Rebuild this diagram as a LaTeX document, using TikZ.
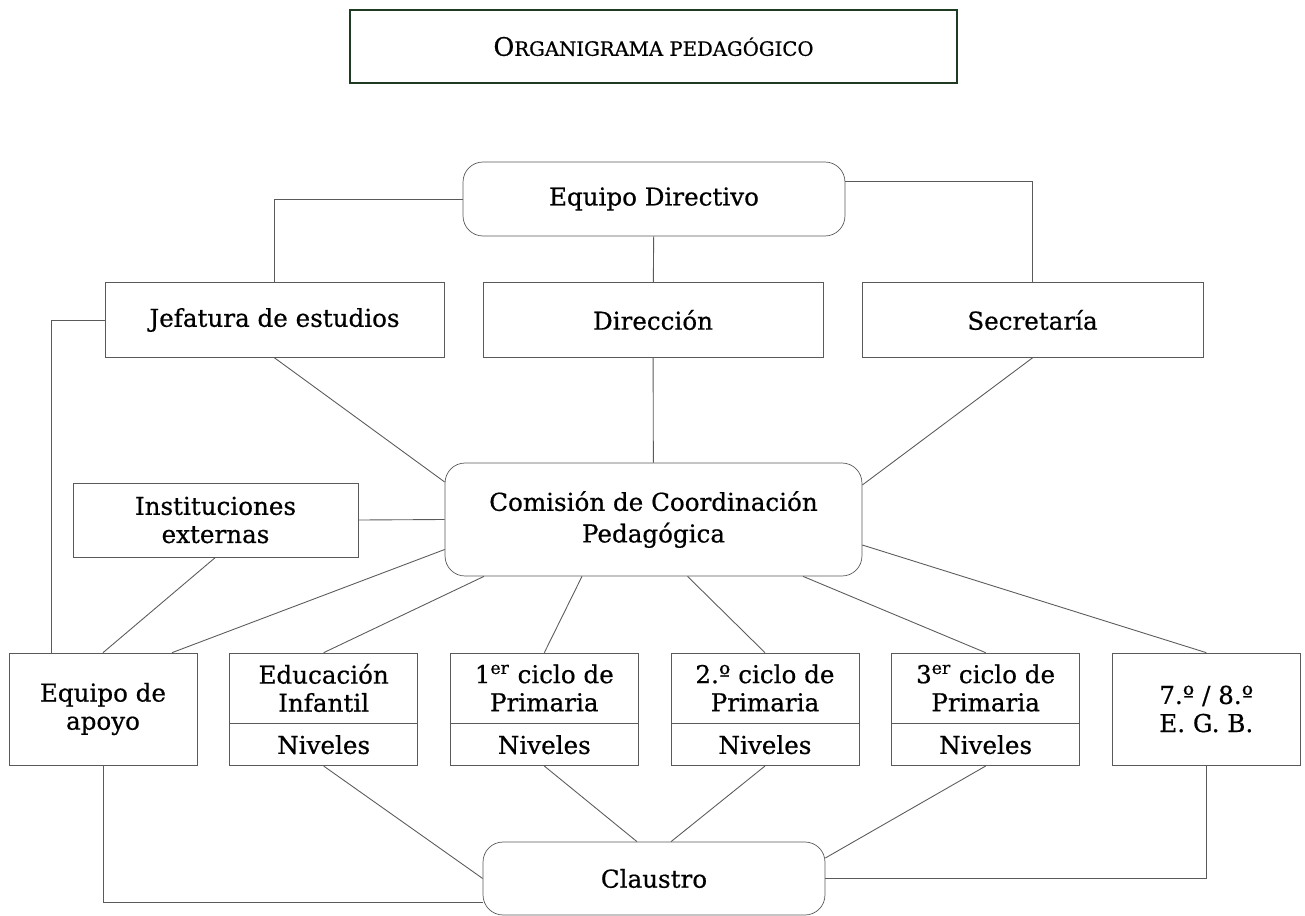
\documentclass[tikz,border=0pt]{standalone}
\usepackage{fontspec}
\setmainfont{DejaVu Serif}[FakeBold=0.6]
\usepackage{tikz}
\usetikzlibrary{positioning}
\definecolor{linegray}{HTML}{5A5A5A}
\definecolor{titlegreen}{HTML}{1F3B22}
\tikzstyle{block} = [rectangle, draw=linegray, fill=white, text centered, align=center,
    inner sep=0pt, minimum width=3.76cm, font=\fontsize{14}{16}\selectfont]
\tikzstyle{roundblock} = [block, rounded corners=0.4cm]
\tikzstyle{level} = [block, minimum height=1.4cm]
\tikzstyle{niveles} = [block, minimum height=0.84cm]
\tikzstyle{line} = [draw, linegray, line width=0.5pt]

\begin{document}
\begin{tikzpicture}[x=0.02cm, y=-0.02cm]
  \useasboundingbox (0,0) rectangle (1305,916);
   % Place nodes
    \node [block, draw=titlegreen, line width=1.2pt, minimum width=12.14cm, minimum height=1.46cm,
      font=\fontsize{14.5}{16}\selectfont] (title) at (653.5,46.5)
      {O{\fontsize{11.2}{13}\selectfont RGANIGRAMA PEDAGÓGICO}};
    \node [roundblock, minimum width=7.64cm, minimum height=1.48cm] (equipo) at (654,199) {Equipo Directivo};
    \node [block, minimum width=6.78cm, minimum height=1.5cm] (jefatura) at (274.5,320) {Jefatura de estudios};
    \node [block, minimum width=6.8cm, minimum height=1.5cm] (direccion) at (653,320) {Dirección};
    \node [block, minimum width=6.82cm, minimum height=1.5cm] (secretaria) at (1032.5,320) {Secretaría};
    \node [roundblock, minimum width=8.34cm, minimum height=2.26cm, font=\fontsize{14}{18}\selectfont]
      (ccp) at (653.5,519.5) {Comisión de Coordinación\\Pedagógica};
    \node [block, minimum width=5.7cm, minimum height=1.48cm] (externas) at (215.5,520) {Instituciones\\externas};
   % Bottom row
    \node [block, minimum height=2.24cm] (apoyo) at (103,709) {Equipo de\\apoyo};
    \node [level, right=0.64cm of apoyo.north east, anchor=north west] (infantil) {Educación\\Infantil};
    \node [level, right=0.64cm of infantil] (primero) {1\textsuperscript{er} ciclo de\\Primaria};
    \node [level, right=0.64cm of primero] (segundo) {2.º ciclo de\\Primaria};
    \node [level, right=0.64cm of segundo] (tercero) {3\textsuperscript{er} ciclo de\\Primaria};
    \node [block, minimum height=2.24cm, right=0.64cm of tercero.north east, anchor=north west] (egb) {7.º / 8.º\\E. G. B.};
    \node [niveles, below=0pt of infantil] (infantilniv) {Niveles};
    \node [niveles, below=0pt of primero] (primeroniv) {Niveles};
    \node [niveles, below=0pt of segundo] (segundoniv) {Niveles};
    \node [niveles, below=0pt of tercero] (terceroniv) {Niveles};
    \node [roundblock, minimum width=6.84cm, minimum height=1.46cm] (claustro) at (654,878.5) {Claustro};
   % Draw edges
    \path [line] (equipo.west) -| (jefatura.north);
    \path [line] ([yshift=0.36cm]equipo.east) -| (secretaria.north);
    \path [line] (equipo) -- (direccion);
    \path [line] (direccion) -- (ccp);
    \path [line] (jefatura.south) -- ([yshift=0.75cm]ccp.west);
    \path [line] (secretaria.south) -- ([yshift=0.69cm]ccp.east);
    \path [line] (externas.east) -- (ccp.west);
    \path [line] (jefatura.west) -| ([xshift=-1.04cm]apoyo.north);
    \path [line] (externas.south) -- (apoyo.north);
    \path [line] ([yshift=-0.6cm]ccp.west) -- ([xshift=1.38cm]apoyo.north);
    \path [line] ([xshift=-3.39cm]ccp.south) -- (infantil.north);
    \path [line] ([xshift=-1.43cm]ccp.south) -- (primero.north);
    \path [line] ([xshift=0.68cm]ccp.south) -- (segundo.north);
    \path [line] ([xshift=2.99cm]ccp.south) -- (tercero.north);
    \path [line] ([yshift=-0.51cm]ccp.east) -- (egb.north);
    \path [line] (infantilniv.south) -- (claustro.west);
    \path [line] (primeroniv.south) -- ([xshift=-0.34cm]claustro.north);
    \path [line] (segundoniv.south) -- ([xshift=0.34cm]claustro.north);
    \path [line] (terceroniv.south) -- ([yshift=0.41cm]claustro.east);
    \path [line] (apoyo.south) |- ([yshift=-0.47cm]claustro.west);
    \path [line] (egb.south) |- (claustro.east);
\end{tikzpicture}
\end{document}
